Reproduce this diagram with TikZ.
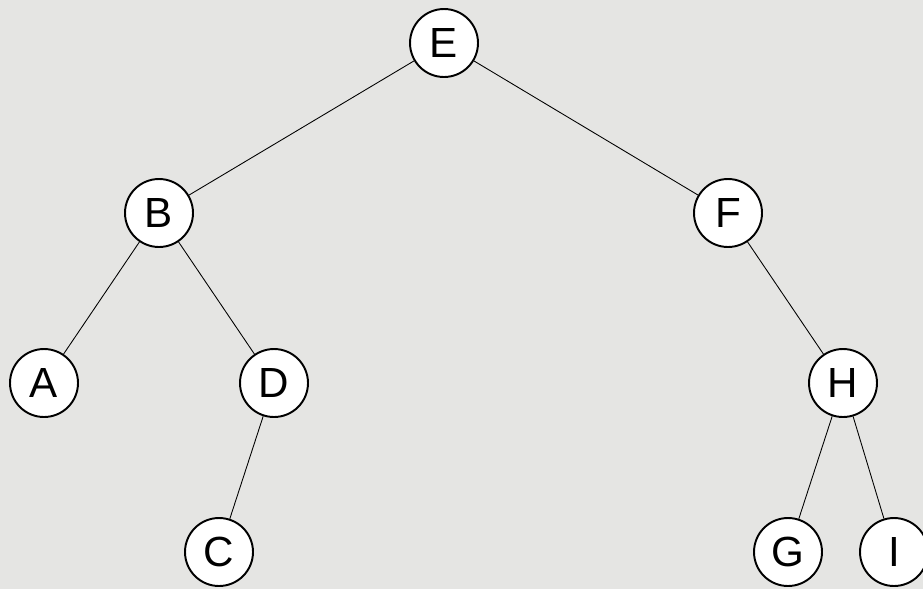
\documentclass[tikz,border=0pt]{standalone}
\usepackage{fontspec}
\setmainfont{Liberation Sans}
\usetikzlibrary{positioning}
\definecolor{marmor}{RGB}{229,229,227}
\tikzset{
  csucs/.style={circle,draw,line width=1.1pt,fill=white,minimum size=1.36cm,
    inner sep=0pt,font=\fontsize{24}{28}\selectfont},
  el/.style={line width=0.5pt},
}

\begin{document}
\begin{tikzpicture}[x=0.02cm,y=-0.02cm]
  \useasboundingbox (0,0) rectangle (923,589);
  \fill[marmor] (0,0) rectangle (923,589);
  \clip (0,0) rectangle (923,589);
  % csucsok
  \node[csucs] (E) at (444,43) {E};
  \node[csucs] (B) at (159,213) {B};
  \node[csucs] (F) at (728,213) {F};
  \node[csucs] (A) at (44,383) {A};
  \node[csucs] (D) at (274,383) {D};
  \node[csucs] (H) at (843,383) {H};
  \node[csucs] (C) at (219,552) {C};
  \node[csucs] (G) at (788,552) {G};
  \node[csucs] (I) at (894,552) {I};
  % elek
  \draw[el] (E) -- (B);
  \draw[el] (E) -- (F);
  \draw[el] (B) -- (A);
  \draw[el] (B) -- (D);
  \draw[el] (D) -- (C);
  \draw[el] (F) -- (H);
  \draw[el] (H) -- (G);
  \draw[el] (H) -- (I);
\end{tikzpicture}
\end{document}
